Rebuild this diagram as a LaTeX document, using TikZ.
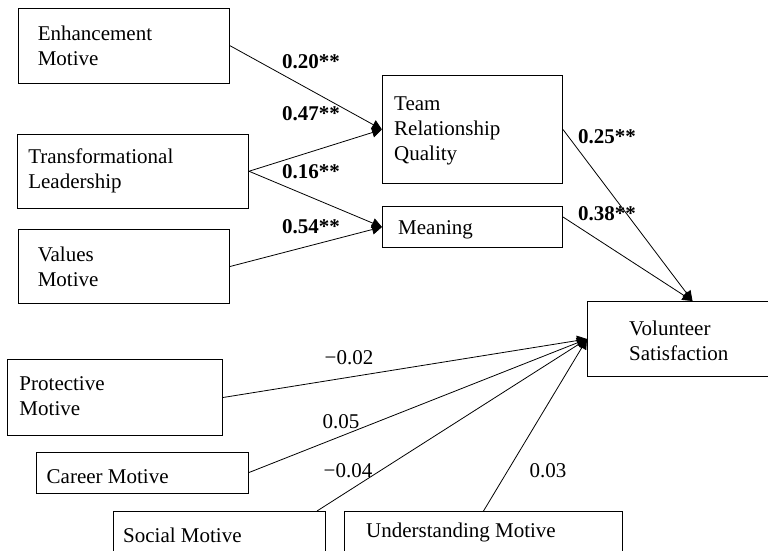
\documentclass[tikz,border=0pt]{standalone}
\usepackage{fontspec}
\setmainfont{Liberation Serif}
\usetikzlibrary{arrows.meta,calc}
\begin{document}
\begin{tikzpicture}[x=1pt,y=-1pt,
  box/.style={draw, line width=1pt, rectangle, inner sep=0pt, anchor=north west},
  txt/.style={inner sep=0pt, anchor=west, align=left, font=\fontsize{21}{25}\selectfont},
  coef/.style={inner sep=0pt, font=\fontsize{21}{25}\selectfont},
  path/.style={line width=0.8pt, -{Triangle[length=10pt,width=10pt]}},
  plain/.style={line width=0.8pt}]
\clip (0,0) rectangle (768,551);
\fill[white] (0,0) rectangle (768,551);
% boxes
\node[box, minimum width=211.4pt, minimum height=75pt] (enh) at (17.6,7.7) {};
\node[box, minimum width=231.4pt, minimum height=74.5pt] (trans) at (16.6,133.5) {};
\node[box, minimum width=211.4pt, minimum height=74pt] (val) at (17.6,229) {};
\node[box, minimum width=180pt, minimum height=108pt] (team) at (382,75) {};
\node[box, minimum width=180pt, minimum height=41pt] (mean) at (382,206) {};
\node[box, minimum width=190pt, minimum height=75pt] (vol) at (587,301) {};
\node[box, minimum width=214.7pt, minimum height=76pt] (prot) at (7.3,359) {};
\node[box, minimum width=212pt, minimum height=41pt] (car) at (36,451.5) {};
\node[box, minimum width=212pt, minimum height=50pt] (soc) at (113,511) {};
\node[box, minimum width=278pt, minimum height=50pt] (und) at (344,511) {};
% texts
\node[txt] (enht) at ($(enh.west)+(20,0)$) {Enhancement\\Motive};
\node[txt] (transt) at ($(trans.west)+(11.5,0)$) {Transformational\\Leadership};
\node[txt] (valt) at ($(val.west)+(20,0)$) {Values\\Motive};
\node[txt] (teamt) at ($(team.west)+(12,1)$) {Team\\Relationship\\Quality};
\node[txt] (meant) at ($(mean.west)+(16,3)$) {Meaning};
\node[txt] (volt) at ($(vol.west)+(42,2)$) {Volunteer\\Satisfaction};
\node[txt] (prott) at ($(prot.west)+(12,-1)$) {Protective\\Motive};
\node[txt] (cart) at ($(car.west)+(10.5,4)$) {Career Motive};
\node[txt] (soct) at ($(soc.north west)+(10,24)$) {Social Motive};
\node[txt] (undt) at ($(und.north west)+(22,21)$) {Understanding Motive};
% connectors
\coordinate (meanout) at ($(mean.east)+(0,-10)$);
\coordinate (voltop) at ($(vol.north)+(10,0)$);
\coordinate (socout) at ($(soc.north east)+(-9,0)$);
\draw[path] (enh.east) -- (team.west);
\draw[path] (trans.east) -- (team.west);
\draw[path] (trans.east) -- (mean.west);
\draw[path] (val.east) -- (mean.west);
\draw[path] (team.east) -- (voltop);
\draw[path] (meanout) -- (voltop);
\draw[path] (prot.east) -- (vol.west);
\draw[path] (car.east) -- (vol.west);
\draw[path] (socout) -- (vol.west);
\draw[path] (und.north) -- (vol.west);
% coefficients
\node[coef] (c1) at (311,61.5) {\textbf{0.20**}};
\node[coef] (c2) at (311,114) {\textbf{0.47**}};
\node[coef] (c3) at (311,172) {\textbf{0.16**}};
\node[coef] (c4) at (311,227) {\textbf{0.54**}};
\node[coef] (c5) at (607,137) {\textbf{0.25**}};
\node[coef] (c6) at (607,214) {\textbf{0.38**}};
\node[coef] (c7) at (349,358) {−0.02};
\node[coef] (c8) at (341,422) {0.05};
\node[coef] (c9) at (348,471) {−0.04};
\node[coef] (c10) at (548,471) {0.03};
\end{tikzpicture}
\end{document}
